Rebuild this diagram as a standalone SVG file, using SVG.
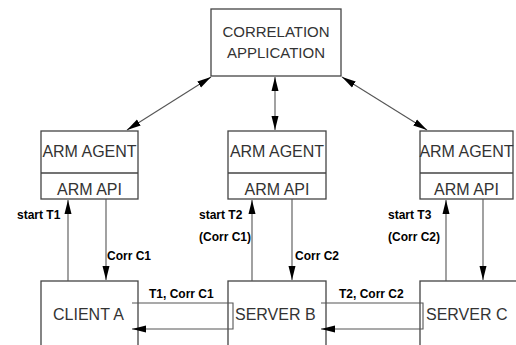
<svg xmlns="http://www.w3.org/2000/svg" width="516" height="345" viewBox="0 0 516 345">
<defs>
<marker id="ah" markerUnits="userSpaceOnUse" markerWidth="14" markerHeight="8" refX="14" refY="4" orient="auto-start-reverse">
<path d="M0,0.5 L14,4 L0,7.5 z" fill="#000"/>
</marker>
<style>
.box{fill:#fff;stroke:#444;stroke-width:1.3}
.sep{stroke:#444;stroke-width:1.3}
.nt{font-family:"Liberation Sans",Arial,sans-serif;font-size:15px;fill:#333}
.na{font-size:16px}
.lb{font-family:"Liberation Sans",Arial,sans-serif;font-size:12px;font-weight:bold;fill:#000}
.ln{fill:none;stroke:#555;stroke-width:1.1}
</style>
</defs>
<rect width="516" height="345" fill="#fff"/>
<g id="correlation">
<rect class="box" x="211" y="9" width="130" height="67"/>
<text class="nt" x="276" y="37" text-anchor="middle">CORRELATION</text>
<text class="nt" x="276" y="58" text-anchor="middle">APPLICATION</text>
</g>
<g id="agent1">
<rect class="box" x="41" y="131" width="97" height="68"/>
<line class="sep" x1="41" y1="173" x2="138" y2="173"/>
<text class="nt na" x="89.5" y="157" text-anchor="middle">ARM AGENT</text>
<text class="nt na" x="89.5" y="195" text-anchor="middle">ARM API</text>
</g>
<g id="agent2">
<rect class="box" x="228" y="131" width="98" height="68"/>
<line class="sep" x1="228" y1="173" x2="326" y2="173"/>
<text class="nt na" x="277" y="157" text-anchor="middle">ARM AGENT</text>
<text class="nt na" x="277" y="195" text-anchor="middle">ARM API</text>
</g>
<g id="agent3">
<rect class="box" x="420" y="131" width="93" height="68"/>
<line class="sep" x1="420" y1="173" x2="513" y2="173"/>
<text class="nt na" x="466.5" y="157" text-anchor="middle">ARM AGENT</text>
<text class="nt na" x="466.5" y="195" text-anchor="middle">ARM API</text>
</g>
<g id="clientA">
<rect class="box" x="41" y="281" width="97" height="80"/>
<text class="nt na" x="53" y="320">CLIENT A</text>
</g>
<g id="serverB">
<rect class="box" x="228" y="281" width="98" height="80"/>
<text class="nt na" x="235" y="320">SERVER B</text>
</g>
<g id="serverC">
<rect class="box" x="420" y="281" width="110" height="80"/>
<text class="nt na" x="426" y="320">SERVER C</text>
</g>
<g id="connectors">
<line class="ln" x1="211" y1="77" x2="127" y2="130" marker-start="url(#ah)" marker-end="url(#ah)"/>
<line class="ln" x1="275" y1="77" x2="275" y2="130" marker-start="url(#ah)" marker-end="url(#ah)"/>
<line class="ln" x1="342" y1="77" x2="427" y2="130" marker-start="url(#ah)" marker-end="url(#ah)"/>
<line class="ln" x1="68" y1="281" x2="68" y2="200" marker-end="url(#ah)"/>
<line class="ln" x1="252" y1="281" x2="252" y2="200" marker-end="url(#ah)"/>
<line class="ln" x1="446" y1="281" x2="446" y2="200" marker-end="url(#ah)"/>
<line class="ln" x1="106" y1="199" x2="106" y2="280" marker-end="url(#ah)"/>
<line class="ln" x1="292" y1="199" x2="292" y2="280" marker-end="url(#ah)"/>
<line class="ln" x1="483" y1="199" x2="483" y2="280" marker-end="url(#ah)"/>
<polyline class="ln" points="132,303 233,303 233,329 132,329" marker-end="url(#ah)"/>
<polyline class="ln" points="321,303 423,303 423,329 321,329" marker-end="url(#ah)"/>
<text class="lb" x="17" y="219">start T1</text>
<text class="lb" x="199" y="219">start T2</text>
<text class="lb" x="199" y="241">(Corr C1)</text>
<text class="lb" x="388" y="219">start T3</text>
<text class="lb" x="388" y="241">(Corr C2)</text>
<text class="lb" x="107" y="260">Corr C1</text>
<text class="lb" x="295" y="260">Corr C2</text>
<text class="lb" x="149" y="298">T1, Corr C1</text>
<text class="lb" x="339" y="298">T2, Corr C2</text>
</g>
</svg>
